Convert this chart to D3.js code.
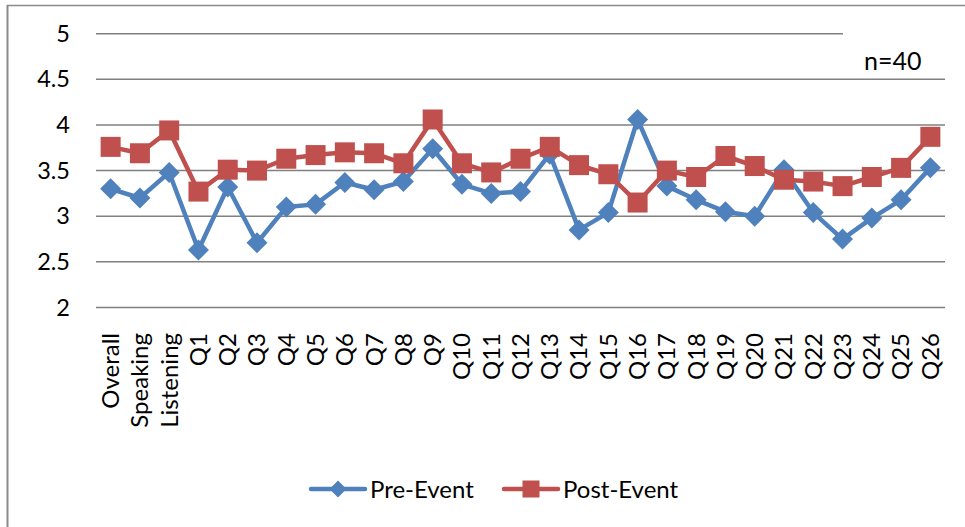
<!DOCTYPE html>
<html>
<head>
<meta charset="utf-8">
<script src="https://cdn.jsdelivr.net/npm/d3@7"></script>
<style>
  body { margin: 0; background: #fff; }
  text { font-family: Lato, "Liberation Sans", sans-serif; fill: #000; }
</style>
</head>
<body>
<script>
var categories = ["Overall", "Speaking", "Listening",
  "Q1", "Q2", "Q3", "Q4", "Q5", "Q6", "Q7", "Q8", "Q9", "Q10", "Q11", "Q12", "Q13",
  "Q14", "Q15", "Q16", "Q17", "Q18", "Q19", "Q20", "Q21", "Q22", "Q23", "Q24", "Q25", "Q26"];
var preEvent = [3.30, 3.20, 3.48, 2.63, 3.32, 2.71, 3.10, 3.13, 3.37, 3.29, 3.38, 3.74, 3.35, 3.25, 3.27,
  3.68, 2.85, 3.04, 4.06, 3.33, 3.18, 3.05, 3.00, 3.51, 3.04, 2.75, 2.98, 3.18, 3.53];
var postEvent = [3.76, 3.69, 3.94, 3.27, 3.51, 3.50, 3.63, 3.67, 3.70, 3.69, 3.58, 4.06, 3.58, 3.48, 3.63,
  3.76, 3.56, 3.46, 3.15, 3.50, 3.43, 3.66, 3.55, 3.40, 3.38, 3.33, 3.43, 3.53, 3.87];
var yTicks = [2, 2.5, 3, 3.5, 4, 4.5, 5];
var seriesNames = ["Pre-Event", "Post-Event"];
var note = "n=40";

var width = 965, height = 527;
var blue = "#4F81BD", red = "#C0504D";

var series = [
  { name: seriesNames[0], values: preEvent, color: blue, shape: "diamond" },
  { name: seriesNames[1], values: postEvent, color: red, shape: "square" }
];

var x = d3.scaleBand().domain(categories).range([96, 945]);
var y = d3.scaleLinear().domain([2, 5]).range([307.5, 33.7]);

var svg = d3.create("svg").attr("width", width).attr("height", height);

// chart frame (top + left visible)
svg.append("line").attr("x1", 7).attr("x2", width).attr("y1", 5.5).attr("y2", 5.5)
  .attr("stroke", "#8a8a8a").attr("stroke-width", 1.5);
svg.append("line").attr("x1", 7.5).attr("x2", 7.5).attr("y1", 5).attr("y2", height)
  .attr("stroke", "#8a8a8a").attr("stroke-width", 2);

// gridlines
svg.append("g").selectAll("line").data(yTicks).join("line")
  .attr("x1", 96)
  .attr("x2", (d) => d === 5 ? 843 : 945)
  .attr("y1", (d) => y(d)).attr("y2", (d) => y(d))
  .attr("stroke", "#808080").attr("stroke-width", 1.5);

// y axis labels
svg.append("g").call(d3.axisLeft(y).tickValues(yTicks).tickSize(0).tickPadding(0).tickFormat(d3.format("")))
  .attr("transform", "translate(70,0)")
  .call((g) => g.select(".domain").remove())
  .selectAll("text").style("font-size", "23.5px").style("font-family", "Lato, sans-serif").attr("fill", "#000");

// x axis labels (rotated)
svg.append("g").selectAll("text").data(categories).join("text")
  .attr("transform", (d) => `translate(${x(d) + x.bandwidth() / 2},333) rotate(-90)`)
  .attr("text-anchor", "end")
  .attr("dy", "0.35em")
  .style("font-size", "24px")
  .text((d) => d);

var line = d3.line()
  .x((d, i) => x(categories[i]) + x.bandwidth() / 2)
  .y((d) => y(d));

function marker(g, shape, color, r) {
  if (shape === "diamond") {
    g.append("path").attr("d", `M0,${-r}L${r},0L0,${r}L${-r},0Z`).attr("fill", color);
  } else {
    g.append("rect").attr("x", -r).attr("y", -r).attr("width", 2 * r).attr("height", 2 * r).attr("fill", color);
  }
}

series.forEach((s) => {
  svg.append("path")
    .attr("d", line(s.values))
    .attr("fill", "none")
    .attr("stroke", s.color)
    .attr("stroke-width", 4.5)
    .attr("stroke-linejoin", "round");
  svg.append("g").selectAll("g").data(s.values).join("g")
    .attr("transform", (d, i) => `translate(${x(categories[i]) + x.bandwidth() / 2},${y(d)})`)
    .each(function () { marker(d3.select(this), s.shape, s.color, s.shape === "diamond" ? 10.5 : 10); });
});

// n=40 note
svg.append("text").attr("x", 864).attr("y", 70).style("font-size", "25px").text(note);

// legend
var legendX = [311, 504];
series.forEach((s, i) => {
  var g = svg.append("g").attr("transform", `translate(${legendX[i]},489)`);
  g.append("line").attr("x1", 0).attr("x2", 54).attr("stroke", s.color)
    .attr("stroke-width", 4.5).attr("stroke-linecap", "round");
  var m = g.append("g").attr("transform", "translate(27,0)");
  marker(m, s.shape, s.color, 8.5);
  g.append("text").attr("x", 59).attr("y", 8.5).style("font-size", "24px").text(s.name);
});

d3.select("body").append(() => svg.node());
</script>
</body>
</html>
